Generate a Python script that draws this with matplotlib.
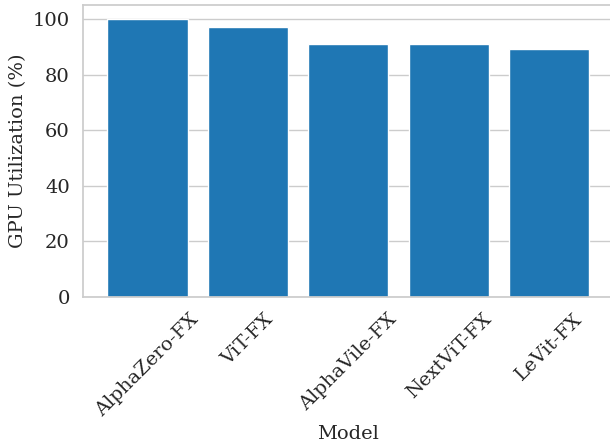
import matplotlib
matplotlib.use("Agg")
import matplotlib.pyplot as plt
import seaborn as sns

models = ["AlphaZero-FX", "ViT-FX", "AlphaVile-FX", "NextViT-FX", "LeVit-FX"]
gpu_util = [100, 97, 91, 91, 89]

sns.set_theme(style="whitegrid")
plt.rcParams['font.family'] = ['DejaVu Serif']

fig = plt.figure(figsize=(6.1, 4.42), dpi=100)
ax = fig.add_axes([83/610, 145/442, 530.6/610, 292/442])
ax.bar(models, gpu_util, color="#1f77b4", width=0.8)
ax.set_xlim(-0.64, 4.64)
ax.set_ylim(0, 105)
ax.set_ylabel("GPU Utilization (%)", fontsize=14, color="#262626")
ax.set_xlabel("Model", fontsize=14, color="#262626")
ax.tick_params(axis='both', labelsize=14, colors="#262626")
plt.setp(ax.get_xticklabels(), rotation=45, ha="center")
ax.xaxis.grid(False)
fig.savefig("out.png", dpi=100)
